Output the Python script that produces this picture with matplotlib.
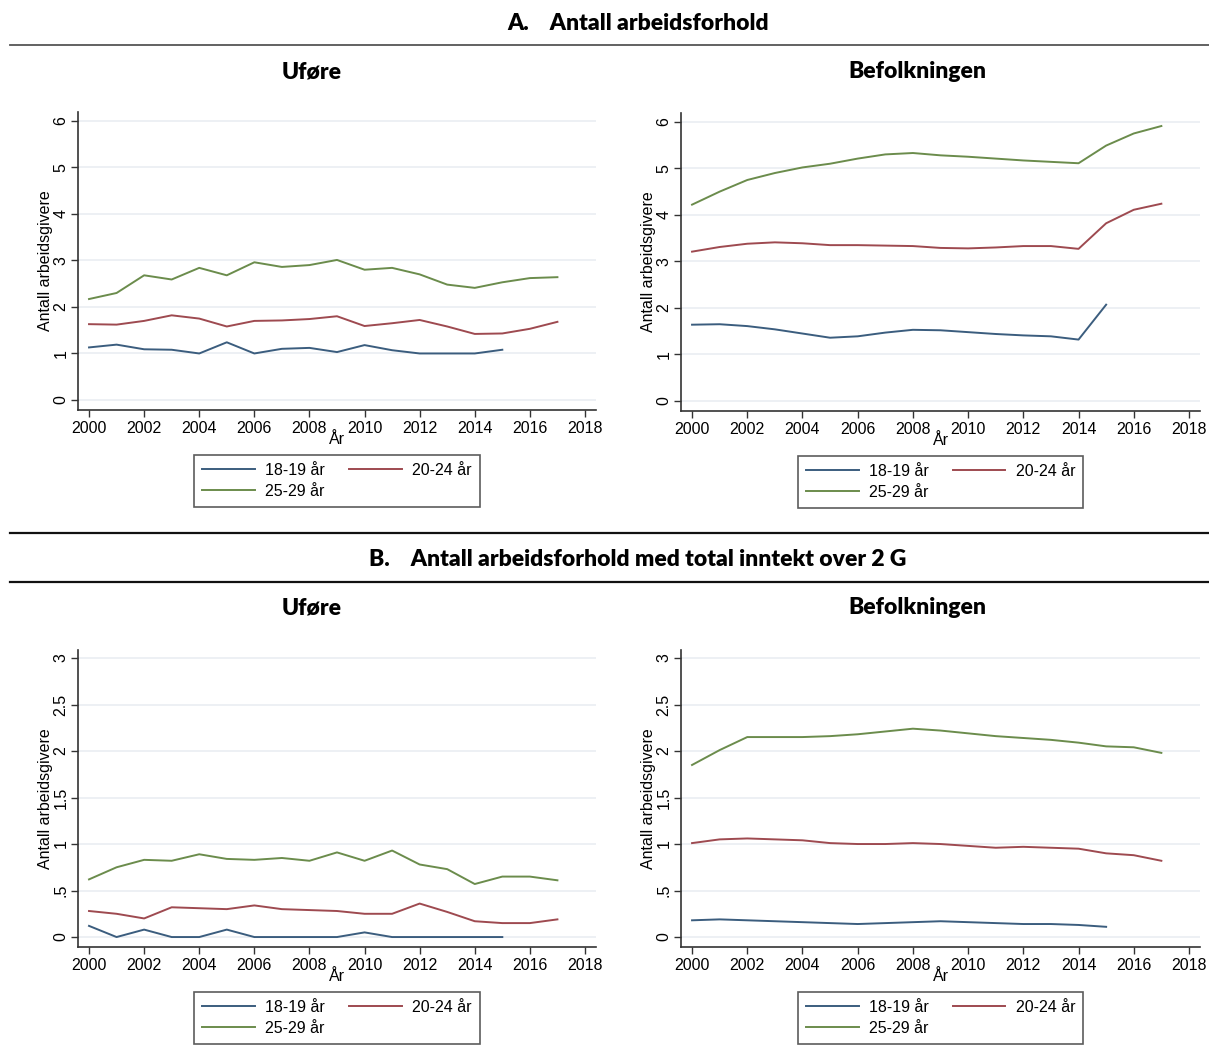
import matplotlib
matplotlib.use("Agg")
import matplotlib.pyplot as plt
from matplotlib.lines import Line2D

plt.rcParams['font.family'] = ['Liberation Sans', 'DejaVu Sans']

years = list(range(2000, 2018))
years_young = list(range(2000, 2016))
labels = ["18-19 år", "20-24 år", "25-29 år"]
colors = ["#3b5d7e", "#9e4a50", "#6b8c4c"]

# Panel A: Antall arbeidsforhold
a_ufore_1819 = [1.13, 1.19, 1.09, 1.08, 1.00, 1.24, 1.00, 1.10, 1.12, 1.03, 1.18, 1.07, 1.00, 1.00, 1.00, 1.08]
a_ufore_2024 = [1.63, 1.62, 1.70, 1.82, 1.75, 1.58, 1.70, 1.71, 1.74, 1.80, 1.59, 1.65, 1.72, 1.58, 1.42, 1.43, 1.53, 1.68]
a_ufore_2529 = [2.17, 2.30, 2.68, 2.59, 2.84, 2.68, 2.96, 2.86, 2.90, 3.01, 2.80, 2.84, 2.70, 2.48, 2.41, 2.53, 2.62, 2.64]

a_bef_1819 = [1.64, 1.65, 1.61, 1.54, 1.45, 1.36, 1.39, 1.47, 1.53, 1.52, 1.48, 1.44, 1.41, 1.39, 1.32, 2.07]
a_bef_2024 = [3.21, 3.31, 3.38, 3.41, 3.39, 3.35, 3.35, 3.34, 3.33, 3.29, 3.28, 3.30, 3.33, 3.33, 3.27, 3.82, 4.11, 4.24]
a_bef_2529 = [4.22, 4.50, 4.75, 4.90, 5.02, 5.10, 5.21, 5.30, 5.33, 5.28, 5.25, 5.21, 5.17, 5.14, 5.11, 5.49, 5.75, 5.91]

# Panel B: Antall arbeidsforhold med total inntekt over 2 G
b_ufore_1819 = [0.12, 0.00, 0.08, 0.00, 0.00, 0.08, 0.00, 0.00, 0.00, 0.00, 0.05, 0.00, 0.00, 0.00, 0.00, 0.00]
b_ufore_2024 = [0.28, 0.25, 0.20, 0.32, 0.31, 0.30, 0.34, 0.30, 0.29, 0.28, 0.25, 0.25, 0.36, 0.27, 0.17, 0.15, 0.15, 0.19]
b_ufore_2529 = [0.62, 0.75, 0.83, 0.82, 0.89, 0.84, 0.83, 0.85, 0.82, 0.91, 0.82, 0.93, 0.78, 0.73, 0.57, 0.65, 0.65, 0.61]

b_bef_1819 = [0.18, 0.19, 0.18, 0.17, 0.16, 0.15, 0.14, 0.15, 0.16, 0.17, 0.16, 0.15, 0.14, 0.14, 0.13, 0.11]
b_bef_2024 = [1.01, 1.05, 1.06, 1.05, 1.04, 1.01, 1.00, 1.00, 1.01, 1.00, 0.98, 0.96, 0.97, 0.96, 0.95, 0.90, 0.88, 0.82]
b_bef_2529 = [1.85, 2.01, 2.15, 2.15, 2.15, 2.16, 2.18, 2.21, 2.24, 2.22, 2.19, 2.16, 2.14, 2.12, 2.09, 2.05, 2.04, 1.98]

a_yticks = [0, 1, 2, 3, 4, 5, 6]
a_yticklabels = ["0", "1", "2", "3", "4", "5", "6"]
b_yticks = [0, 0.5, 1, 1.5, 2, 2.5, 3]
b_yticklabels = ["0", ".5", "1", "1.5", "2", "2.5", "3"]
xticks = list(range(2000, 2019, 2))

W, H = 1209, 1063
fig = plt.figure(figsize=(W / 100, H / 100), dpi=100)
fig.patch.set_facecolor("white")

def fx(px):
    return px / W

def fy(py):
    return 1 - py / H

title_font = dict(family=['Lato', 'DejaVu Sans'], fontweight='heavy', fontsize=16.5)

def panel(left_px, right_px, top_px, bottom_px, series, yticks, yticklabels, ylim, subtitle, name):
    hpx = bottom_px - top_px
    ax = fig.add_axes([fx(left_px), fy(bottom_px), (right_px - left_px) / W, hpx / H])
    xs = [years_young, years, years]
    handles = []
    for x, y, c, lab in zip(xs, series, colors, labels):
        h, = ax.plot(x, y, color=c, lw=1.4, label=lab)
        handles.append(h)
    ax.set_xlim(1999.6, 2018.4)
    ax.set_ylim(*ylim)
    ax.set_xticks(xticks)
    ax.set_yticks(yticks)
    ax.set_yticklabels(yticklabels, rotation=90, va='center')
    ax.tick_params(axis='both', labelsize=11.5, color='#333333', length=5, width=1)
    ax.tick_params(axis='x', pad=3)
    ax.tick_params(axis='y', pad=2)
    ax.grid(axis='y', color='#eaeef2', lw=1.2)
    ax.set_axisbelow(True)
    for s in ['top', 'right']:
        ax.spines[s].set_visible(False)
    for s in ['left', 'bottom']:
        ax.spines[s].set_color('#333333')
        ax.spines[s].set_linewidth(1.2)
    ax.set_xlabel("År", fontsize=11.5, labelpad=-3)
    ax.set_ylabel("Antall arbeidsgivere", fontsize=11.5, labelpad=0)
    leg = ax.legend([handles[0], handles[2], handles[1]], [labels[0], labels[2], labels[1]],
                    ncol=2, loc='upper center', bbox_to_anchor=(0.5, -45 / hpx),
                    borderaxespad=0, fontsize=11.5, frameon=True, fancybox=False,
                    handlelength=3.3, columnspacing=1.5, handletextpad=0.65,
                    borderpad=0.5, labelspacing=0.35)
    leg.get_frame().set_edgecolor('#333333')
    leg.get_frame().set_linewidth(1.2)
    fig.text(fx(312 if left_px < 300 else 917), fy(subtitle), name,
             ha='center', va='center', **title_font)
    return ax

# Section titles and rules
fig.text(fx(638), fy(24), "A.    Antall arbeidsforhold", ha='center', va='center', **title_font)
fig.text(fx(638), fy(560), "B.    Antall arbeidsforhold med total inntekt over 2 G", ha='center', va='center', **title_font)
for ypx, col, lw in [(45, '#555555', 1.3), (533, '#111111', 1.6), (582, '#111111', 1.6)]:
    fig.add_artist(Line2D([fx(10), fx(1209)], [fy(ypx), fy(ypx)], color=col, lw=lw))

panel(78, 596, 112, 410, [a_ufore_1819, a_ufore_2024, a_ufore_2529], a_yticks, a_yticklabels, (-0.215, 6.19), 72, "Uføre")
panel(681, 1200, 113, 411, [a_bef_1819, a_bef_2024, a_bef_2529], a_yticks, a_yticklabels, (-0.215, 6.19), 72, "Befolkningen")
panel(78, 596, 650, 947, [b_ufore_1819, b_ufore_2024, b_ufore_2529], b_yticks, b_yticklabels, (-0.107, 3.086), 608, "Uføre")
panel(681, 1200, 650, 947, [b_bef_1819, b_bef_2024, b_bef_2529], b_yticks, b_yticklabels, (-0.107, 3.086), 608, "Befolkningen")

fig.savefig("out.png", dpi=100, facecolor='white')
